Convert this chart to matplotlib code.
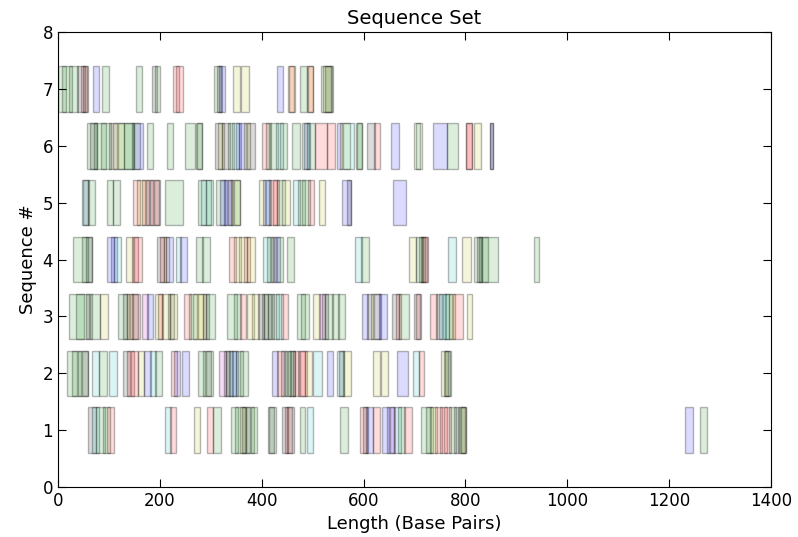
import matplotlib
matplotlib.use("Agg")
import matplotlib.pyplot as plt
from matplotlib.colors import to_rgba

# Each sequence row: start (bp), length (bp), colour letter
seq1_start = [59, 66, 75, 88, 96, 210, 220, 267, 293, 305, 340, 348, 358, 362, 370, 378,
              412, 414, 440, 445, 450, 475, 488, 554, 593, 598, 605, 618, 636, 645, 652,
              660, 668, 680, 713, 722, 730, 740, 750, 758, 768, 778, 786, 790, 792, 1231, 1261]
seq1_width = [16, 14, 18, 14, 14, 12, 12, 12, 12, 16, 14, 20, 12, 14, 14, 13,
              16, 10, 12, 14, 13, 10, 12, 15, 14, 10, 14, 14, 14, 14, 10,
              14, 14, 15, 20, 14, 14, 14, 14, 14, 14, 10, 14, 12, 10, 16, 13]
seq1_color = list("kcggrcryrgggykgggkkrkgcgrkbrbbmcgrggyrrrgkgykbg")

seq2_start = [18, 28, 40, 48, 67, 80, 100, 128, 135, 143, 157, 168, 180, 190, 222, 228, 243,
              275, 285, 290, 316, 325, 330, 335, 342, 350, 358, 420, 430, 438, 446, 452,
              456, 462, 472, 475, 485, 500, 528, 548, 552, 560, 618, 634, 666, 697, 708,
              752, 758, 760]
seq2_width = [20, 18, 19, 10, 14, 16, 16, 14, 14, 14, 12, 14, 12, 14, 12, 12, 14,
              14, 19, 10, 14, 12, 14, 14, 12, 14, 15, 12, 14, 12, 12, 14,
              10, 12, 13, 14, 14, 18, 12, 14, 10, 15, 14, 14, 21, 12, 11,
              14, 14, 10]
seq2_color = list("gggkcgckrrybcgrbbggkmkkcbggbrkggkrrrycbckyyybcrygk")

seq3_start = [22, 35, 55, 62, 82, 118, 128, 135, 142, 145, 165, 175, 190, 197, 205, 215, 220,
              247, 258, 265, 275, 285, 290, 332, 345, 358, 372, 380, 392, 400, 405, 412,
              420, 428, 438, 469, 478, 501, 512, 518, 525, 538, 550, 597, 607, 615, 620,
              630, 656, 664, 670, 699, 702, 730, 742, 748, 755, 760, 768, 775, 803, 830]
seq3_width = [30, 25, 12, 20, 16, 18, 12, 12, 19, 12, 12, 12, 14, 10, 15, 12, 14,
              15, 14, 20, 15, 12, 18, 20, 14, 12, 12, 14, 12, 12, 14, 12,
              14, 14, 14, 16, 15, 14, 12, 12, 14, 14, 14, 12, 12, 18, 14,
              16, 14, 10, 20, 14, 8, 14, 12, 14, 12, 14, 12, 20, 10, 12]
seq3_color = list("ggkgygkyrkmbyrykyrgyykgggryykkgkgcrggymkgggbkybbkrgkrrkccgyry")

seq4_start = [29, 48, 55, 96, 104, 110, 134, 145, 150, 194, 200, 208, 212, 232, 240, 271, 282,
              336, 345, 355, 365, 372, 402, 410, 418, 424, 430, 450, 583, 595, 689, 702,
              708, 712, 715, 766, 793, 817, 822, 826, 832, 935]
seq4_width = [30, 18, 12, 14, 12, 14, 14, 12, 15, 14, 12, 10, 14, 10, 13, 14, 16,
              14, 14, 16, 12, 15, 14, 12, 10, 12, 12, 13, 14, 16, 14, 15,
              12, 12, 12, 15, 18, 14, 10, 18, 32, 9]
seq4_color = list("ggkbbcyrrkrybcbggryyrycgkbggcgyggkrcygkggg")

seq5_start = [47, 50, 58, 96, 108, 147, 155, 165, 172, 180, 188, 210, 275, 280, 290, 310, 318,
              325, 333, 340, 345, 395, 402, 408, 414, 422, 430, 440, 462, 472, 480, 490,
              512, 558, 568, 658]
seq5_width = [12, 10, 15, 12, 14, 14, 16, 14, 15, 18, 12, 35, 15, 20, 14, 18, 14,
              16, 10, 17, 12, 12, 14, 10, 16, 12, 16, 16, 14, 12, 14, 12,
              12, 18, 8, 25]
seq5_color = list("ckgggryrkrkggcggbbkygybcrrgycggrybkb")

seq6_start = [57, 62, 70, 85, 100, 108, 118, 130, 145, 150, 175, 214, 249, 270, 272, 308, 315,
              322, 333, 342, 350, 355, 365, 372, 400, 408, 416, 428, 436, 459, 479, 483,
              489, 505, 528, 548, 553, 560, 585, 588, 607, 620, 654, 699, 703, 736, 764,
              801, 801, 817, 848, 849]
seq6_width = [20, 14, 25, 20, 15, 22, 30, 20, 15, 17, 12, 12, 20, 12, 10, 14, 10,
              16, 12, 14, 10, 14, 12, 15, 14, 10, 16, 14, 14, 16, 14, 12,
              16, 23, 16, 10, 20, 22, 12, 9, 16, 12, 16, 16, 8, 28, 21,
              12, 12, 14, 6, 5]
seq6_color = list("gkggkygggbgggggkykgcbbykrggcgggbgrrbycggkrbycbgrrybkk")

seq7_start = [0, 8, 22, 38, 45, 50, 69, 86, 153, 185, 190, 226, 232, 306, 312, 316, 344, 359,
              430, 452, 454, 475, 489, 490, 516, 520, 525]
seq7_width = [15, 20, 18, 15, 12, 8, 12, 14, 12, 10, 10, 12, 13, 14, 10, 12, 13, 16,
              12, 13, 10, 14, 12, 10, 24, 16, 12]
seq7_color = list("gggkrkbggkgrrgkbyybyrgyrgyk")

rows = [
    (1, seq1_start, seq1_width, seq1_color),
    (2, seq2_start, seq2_width, seq2_color),
    (3, seq3_start, seq3_width, seq3_color),
    (4, seq4_start, seq4_width, seq4_color),
    (5, seq5_start, seq5_width, seq5_color),
    (6, seq6_start, seq6_width, seq6_color),
    (7, seq7_start, seq7_width, seq7_color),
]

fig = plt.figure(figsize=(7.98, 5.37), dpi=100)
ax = fig.add_axes([0.0727, 0.0931, 0.8935, 0.8473])

for y, starts, widths, colors in rows:
    n = min(len(starts), len(widths), len(colors))
    for s, w, c in zip(starts[:n], widths[:n], colors[:n]):
        ax.barh(y, w, left=s, height=0.8,
                facecolor=to_rgba(c, 0.14), edgecolor=(0, 0, 0, 0.28), linewidth=1.0)

ax.set_xlim(0, 1400)
ax.set_ylim(0, 8)
ax.set_xticks(range(0, 1401, 200))
ax.set_yticks(range(0, 9))
ax.tick_params(direction="in", top=True, right=True, length=6, labelsize=12)
ax.set_xlabel("Length (Base Pairs)", fontsize=13)
ax.set_ylabel("Sequence #", fontsize=13)
ax.set_title("Sequence Set", fontsize=14)

fig.savefig("out.png", dpi=100)
